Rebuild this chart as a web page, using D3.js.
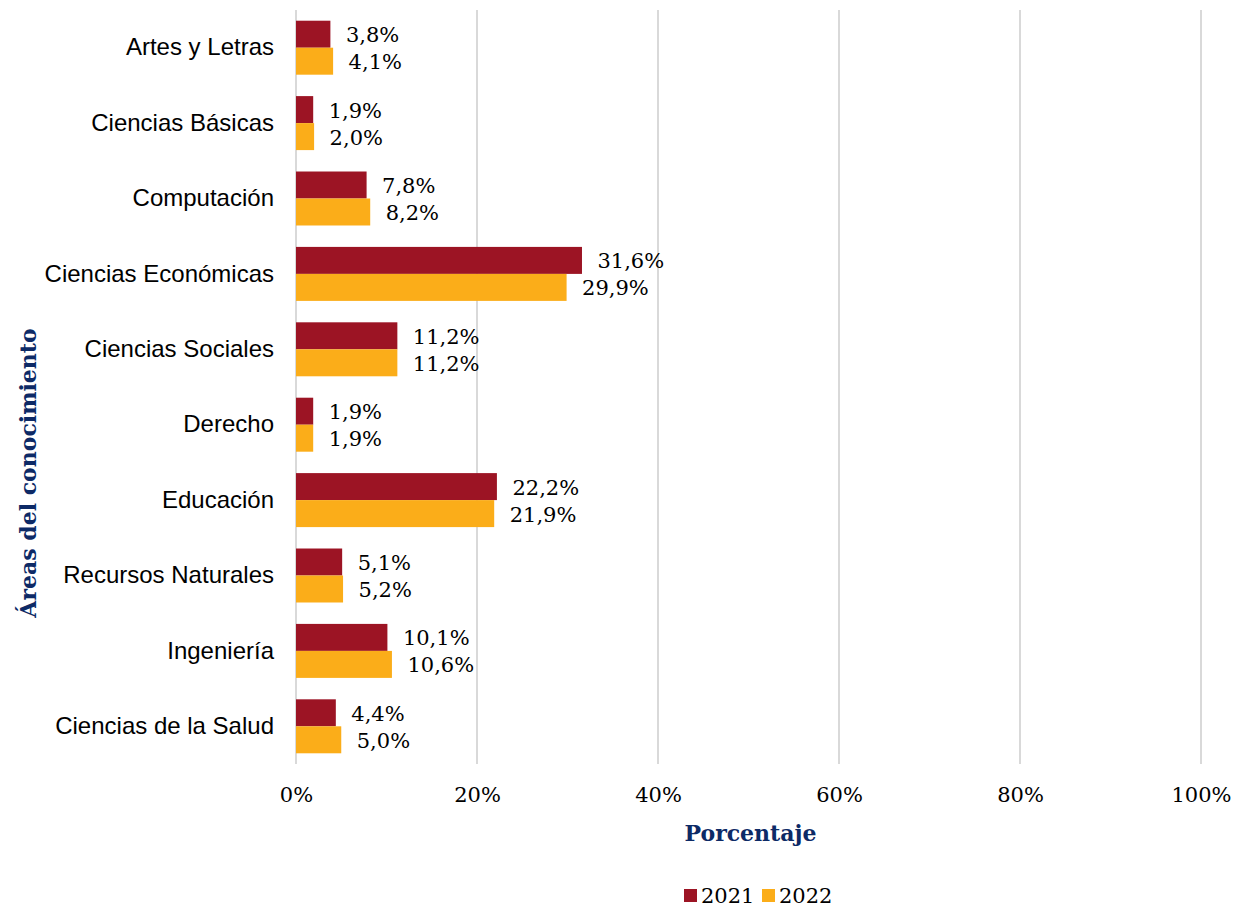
<!DOCTYPE html>
<html><head><meta charset="utf-8">
<script src="https://cdn.jsdelivr.net/npm/d3@7"></script>
<style>html,body{margin:0;padding:0;background:#fff;}</style>
</head><body>
<svg id="chart" width="1247" height="909"></svg>
<script>
const categories = ["Artes y Letras","Ciencias Básicas","Computación","Ciencias Económicas","Ciencias Sociales","Derecho","Educación","Recursos Naturales","Ingeniería","Ciencias de la Salud"];
const series = ["2021","2022"];
const values2021 = [3.8,1.9,7.8,31.6,11.2,1.9,22.2,5.1,10.1,4.4];
const values2022 = [4.1,2.0,8.2,29.9,11.2,1.9,21.9,5.2,10.6,5.0];
const xTicks = [0,20,40,60,80,100];
const colors = ["#9C1424","#FBAD19"];
const navy = "#0D2A66";

(function(){
const svg = d3.select("#chart");
const pL = 296, pR = 1201, pT = 10, pB = 764;

const x = d3.scaleLinear().domain([0,100]).range([pL,pR]);
const y0 = d3.scaleBand().domain(categories).range([pT,pB]).paddingInner(0.284).paddingOuter(0.142);
const y1 = d3.scaleBand().domain(series).range([0,y0.bandwidth()]);

// gridlines
svg.append("g").selectAll("line").data(xTicks).join("line")
  .attr("x1",d=>x(d)).attr("x2",d=>x(d)).attr("y1",pT).attr("y2",pB)
  .attr("stroke","#d9d9d9").attr("stroke-width",2);

// x axis tick labels via d3 axis
const xAxis = d3.axisBottom(x).tickValues(xTicks).tickSize(0).tickPadding(0).tickFormat(d=>d+"%");
const gx = svg.append("g").attr("transform",`translate(0,${pB+23})`).call(xAxis);
gx.select(".domain").remove();
gx.selectAll("text").attr("font-family","DejaVu Serif").attr("font-size",21).attr("fill","#000").attr("dy","0.71em");

// y axis category labels
const yAxis = d3.axisLeft(y0).tickSize(0).tickPadding(22);
const gy = svg.append("g").attr("transform",`translate(${pL},0)`).call(yAxis);
gy.select(".domain").remove();
gy.selectAll("text").attr("font-family","Liberation Sans, Arial").attr("font-size",24).attr("fill","#000");

const fmt = v => d3.format(".1f")(v).replace(".",",") + "%";
const rows = categories.map((c,i)=>({cat:c, vals:[values2021[i],values2022[i]]}));

const groups = svg.append("g").selectAll("g").data(rows).join("g")
  .attr("transform",d=>`translate(0,${y0(d.cat)})`);
groups.selectAll("rect").data(d=>d.vals.map((v,j)=>({s:series[j],v,j}))).join("rect")
  .attr("x",x(0)).attr("y",d=>y1(d.s)).attr("width",d=>x(d.v)-x(0)).attr("height",y1.bandwidth())
  .attr("fill",d=>colors[d.j]);
groups.selectAll("text").data(d=>d.vals.map((v,j)=>({s:series[j],v,j}))).join("text")
  .attr("x",d=>x(d.v)+15.5).attr("y",d=>y1(d.s)+y1.bandwidth()/2+1)
  .attr("dominant-baseline","central")
  .attr("font-family","DejaVu Serif").attr("font-size",21).attr("fill","#000")
  .text(d=>fmt(d.v));

// axis titles
svg.append("text").attr("x",(pL+pR)/2+2).attr("y",833).attr("dominant-baseline","central")
  .attr("text-anchor","middle").attr("font-family","DejaVu Serif").attr("font-weight","bold")
  .attr("font-size",22).attr("fill",navy).text("Porcentaje");
svg.append("text").attr("transform","translate(28,473) rotate(-90)").attr("dominant-baseline","central")
  .attr("text-anchor","middle").attr("font-family","DejaVu Serif").attr("font-weight","bold")
  .attr("font-size",22).attr("fill",navy).text("Áreas del conocimiento");

// legend
const legend = svg.append("g");
const legX = [684, 762];
series.forEach((s,i)=>{
  legend.append("rect").attr("x",legX[i]).attr("y",889).attr("width",13).attr("height",13).attr("fill",colors[i]);
  legend.append("text").attr("x",legX[i]+17).attr("y",896).attr("dominant-baseline","central")
    .attr("font-family","DejaVu Serif").attr("font-size",21).attr("fill","#000").text(s);
});
})();
</script>
</body></html>
